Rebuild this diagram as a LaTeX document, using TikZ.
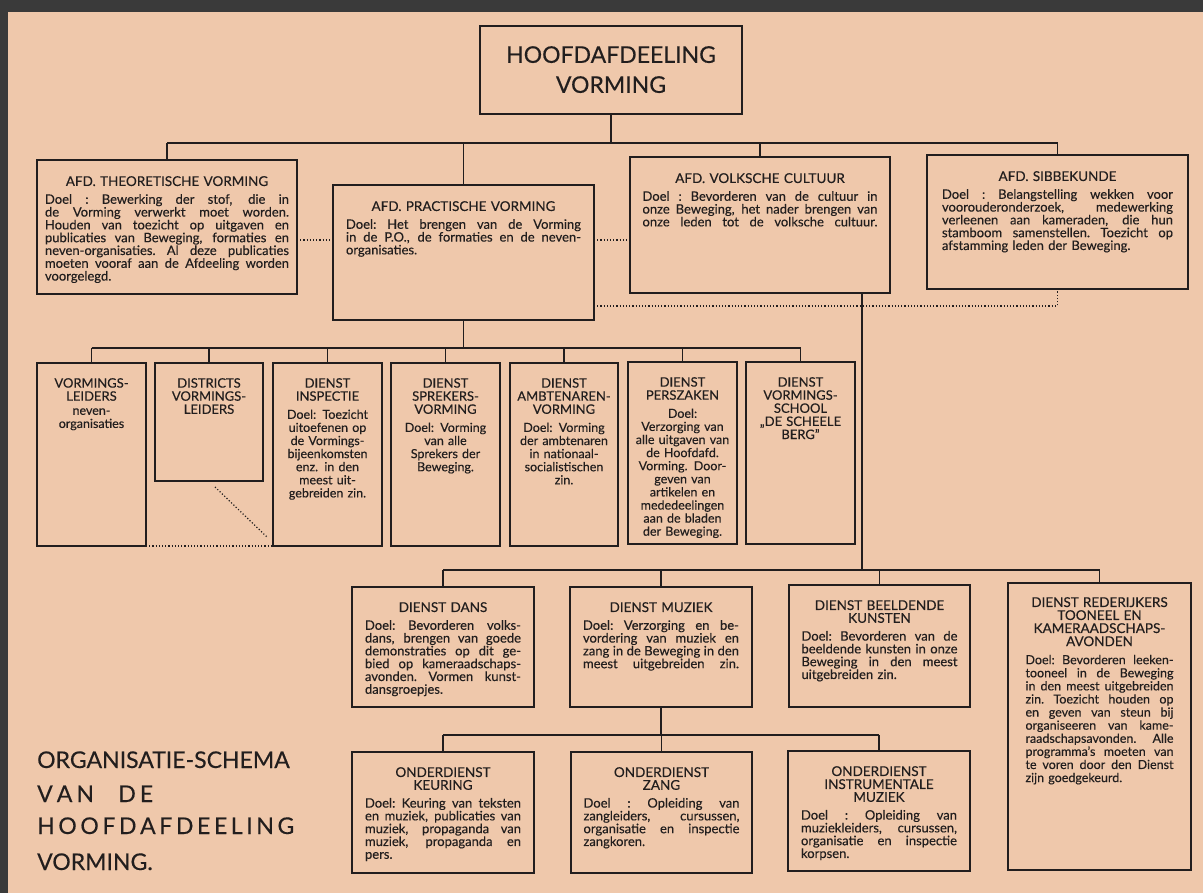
\documentclass[tikz,border=0pt]{standalone}
\usepackage{fontspec}
\setmainfont{Lato}[FakeBold=0.3]
\definecolor{paper}{RGB}{239,200,171}
\definecolor{ink}{RGB}{34,30,30}
\definecolor{framec}{RGB}{58,58,58}
\newcommand\JL[1]{{\spaceskip=0.24em plus 1fil minus 0.1em\xspaceskip=\spaceskip\makebox[\linewidth][s]{#1}}}
\newcommand\LL[1]{\makebox[\linewidth][l]{#1}}
\newcommand\hd{\fontsize{13.5}{13}\selectfont}
\newcommand\hdd{\fontsize{13}{13.1}\selectfont}
\newcommand\bx[5]{\node[box, minimum width={#4-#2}, minimum height={#5-#3}] (#1) at (#2,#3) {};}
\begin{document}
\begin{tikzpicture}[x=1pt,y=-1pt,
  box/.style={draw=ink, line width=1.9pt, inner sep=0pt, outer sep=0pt, anchor=north west, rectangle},
  txt/.style={anchor=north, inner sep=0pt, align=center, text=ink, font=\fontsize{13}{12.8}\selectfont},
  sm/.style={txt, text width=108pt, font=\fontsize{12.5}{13.1}\selectfont},
  conn/.style={draw=ink, line width=1.9pt},
  dots/.style={draw=ink, line width=1.2pt, dotted},
  ttl/.style={anchor=base west, inner sep=0pt, text=ink, font=\fontsize{23}{34}\selectfont}
]
\fill[paper] (0,0) rectangle (1203,893);
\fill[framec] (0,0) rectangle (1203,12);
\fill[framec] (0,0) rectangle (8,893);
\useasboundingbox (0,0) rectangle (1203,893);

% boxes
\bx{top}{480}{26}{742}{114}
\bx{theo}{37}{160}{297}{294}
\bx{prac}{333}{185}{594}{320}
\bx{volk}{630}{157}{890}{293}
\bx{sibbe}{927}{155}{1188}{289}
\bx{vl}{37}{363}{146}{546}
\bx{dist}{155}{363}{263}{481}
\bx{insp}{273}{363}{382}{546}
\bx{spr}{391}{363}{500}{546}
\bx{amb}{510}{363}{618}{546}
\bx{pers}{628}{362}{737}{544}
\bx{vs}{746}{362}{855}{544}
\bx{dans}{352}{587}{534}{707}
\bx{muz}{570}{587}{752}{707}
\bx{beeld}{789}{585}{970}{707}
\bx{rede}{1008}{583}{1191}{870}
\bx{keur}{352}{752}{534}{873}
\bx{zang}{571}{752}{752}{873}
\bx{instr}{788}{751}{970}{871}

% texts
\node[txt, font=\fontsize{23}{30}\selectfont] (top-t) at ([yshift=-20pt]top.north) {HOOFDAFDEELING\\VORMING};

\node[txt, text width=244pt] (theo-t) at ([yshift=-16pt]theo.north) {{\hd AFD. THEORETISCHE VORMING}\\[5pt]
\JL{Doel : Bewerking der stof, die in}\\
\JL{de Vorming verwerkt moet worden.}\\
\JL{Houden van toezicht op uitgaven en}\\
\JL{publicaties van Beweging, formaties en}\\
\JL{neven-organisaties. Al deze publicaties}\\
\JL{moeten vooraf aan de Afdeeling worden}\\
\LL{voorgelegd.}};

\node[txt, text width=235pt] (prac-t) at ([yshift=-16pt]prac.north) {{\hd AFD. PRACTISCHE VORMING}\\[5pt]
\JL{Doel: Het brengen van de Vorming}\\
\JL{in de P.O., de formaties en de neven-}\\
\LL{organisaties.}};

\node[txt, text width=235pt] (volk-t) at ([yshift=-16pt]volk.north) {{\hd AFD. VOLKSCHE CULTUUR}\\[5pt]
\JL{Doel : Bevorderen van de cultuur in}\\
\JL{onze Beweging, het nader brengen van}\\
\JL{onze leden tot de volksche cultuur.}};

\node[txt, text width=231pt] (sibbe-t) at ([yshift=-16pt]sibbe.north) {{\hd AFD. SIBBEKUNDE}\\[5pt]
\JL{Doel : Belangstelling wekken voor}\\
\JL{voorouderonderzoek, medewerking}\\
\JL{verleenen aan kameraden, die hun}\\
\JL{stamboom samenstellen. Toezicht op}\\
\LL{afstamming leden der Beweging.}};

\node[sm] (vl-t) at ([yshift=-15pt]vl.north) {{\hdd VORMINGS-\\LEIDERS}\\[1pt]neven-\\organisaties};
\node[sm] (dist-t) at ([yshift=-15pt]dist.north) {{\hdd DISTRICTS\\VORMINGS-\\LEIDERS}};
\node[sm] (insp-t) at ([yshift=-15pt]insp.north) {{\hdd DIENST\\INSPECTIE}\\[5pt]Doel: Toezicht\\uitoefenen op\\de Vormings-\\bijeenkomsten\\enz. in den\\meest uit-\\gebreiden zin.};
\node[sm] (spr-t) at ([yshift=-15pt]spr.north) {{\hdd DIENST\\SPREKERS-\\VORMING}\\[5pt]Doel: Vorming\\van alle\\Sprekers der\\Beweging.};
\node[sm] (amb-t) at ([yshift=-15pt]amb.north) {{\hdd DIENST\\AMBTENAREN-\\VORMING}\\[5pt]Doel: Vorming\\der ambtenaren\\in nationaal-\\socialistischen\\zin.};
\node[sm] (pers-t) at ([yshift=-15pt]pers.north) {{\hdd DIENST\\PERSZAKEN}\\[5pt]Doel:\\Verzorging van\\alle uitgaven van\\de Hoofdafd.\\Vorming. Door-\\geven van\\artikelen en\\mededeelingen\\aan de bladen\\der Beweging.};
\node[sm] (vs-t) at ([yshift=-15pt]vs.north) {{\hdd DIENST\\VORMINGS-\\SCHOOL\\„DE SCHEELE\\BERG”}};

\node[txt, text width=156pt] (dans-t) at ([yshift=-15pt]dans.north) {{\hd DIENST DANS}\\[5pt]
\JL{Doel: Bevorderen volks-}\\
\JL{dans, brengen van goede}\\
\JL{demonstraties op dit ge-}\\
\JL{bied op kameraadschaps-}\\
\JL{avonden. Vormen kunst-}\\
\LL{dansgroepjes.}};

\node[txt, text width=156pt] (muz-t) at ([yshift=-15pt]muz.north) {{\hd DIENST MUZIEK}\\[5pt]
\JL{Doel: Verzorging en be-}\\
\JL{vordering van muziek en}\\
\JL{zang in de Beweging in den}\\
\JL{meest uitgebreiden zin.}};

\node[txt, text width=156pt] (beeld-t) at ([yshift=-15pt]beeld.north) {{\hd DIENST BEELDENDE\\KUNSTEN}\\[5pt]
\JL{Doel: Bevorderen van de}\\
\JL{beeldende kunsten in onze}\\
\JL{Beweging in den meest}\\
\LL{uitgebreiden zin.}};

\node[txt, text width=148pt, font=\fontsize{12.5}{13.1}\selectfont] (rede-t) at ([yshift=-14pt]rede.north) {{\hd DIENST REDERIJKERS\\TOONEEL EN\\KAMERAADSCHAPS-\\AVONDEN}\\[5pt]
\JL{Doel: Bevorderen leeken-}\\
\JL{tooneel in de Beweging}\\
\JL{in den meest uitgebreiden}\\
\JL{zin. Toezicht houden op}\\
\JL{en geven van steun bij}\\
\JL{organiseeren van kame-}\\
\JL{raadschapsavonden. Alle}\\
\JL{programma’s moeten van}\\
\JL{te voren door den Dienst}\\
\LL{zijn goedgekeurd.}};

\node[txt, text width=156pt] (keur-t) at ([yshift=-15pt]keur.north) {{\hd ONDERDIENST\\KEURING}\\[5pt]
\JL{Doel: Keuring van teksten}\\
\JL{en muziek, publicaties van}\\
\JL{muziek, propaganda van}\\
\JL{muziek, propaganda en}\\
\LL{pers.}};

\node[txt, text width=156pt] (zang-t) at ([yshift=-15pt]zang.north) {{\hd ONDERDIENST\\ZANG}\\[5pt]
\JL{Doel : Opleiding van}\\
\JL{zangleiders, cursussen,}\\
\JL{organisatie en inspectie}\\
\LL{zangkoren.}};

\node[txt, text width=156pt] (instr-t) at ([yshift=-15pt]instr.north) {{\hd ONDERDIENST\\INSTRUMENTALE\\MUZIEK}\\[5pt]
\JL{Doel : Opleiding van}\\
\JL{muziekleiders, cursussen,}\\
\JL{organisatie en inspectie}\\
\LL{korpsen.}};

% title
\node[ttl] (t1) at (37,768) {ORGANISATIE-SCHEMA};
\node[ttl] (t2) at (37,802) {\hbox to 116pt{V\hfil A\hfil N\hskip 0pt plus 6fil D\hfil E}};
\node[ttl] (t3) at (37,834) {\hbox to 257pt{H\hfill O\hfill O\hfill F\hfill D\hfill A\hfill F\hfill D\hfill E\hfill E\hfill L\hfill I\hfill N\hfill G}};
\node[ttl] (t4) at (37,870) {VORMING.};

% connectors level 1
\coordinate (b1) at (611,143);
\draw[conn] (top.south) -- (top.south |- b1);
\draw[conn] (theo.north |- b1) -- (sibbe.north |- b1);
\foreach \n in {theo,prac,volk,sibbe} \draw[conn] (\n.north |- b1) -- (\n.north);

% level 2 (practische)
\coordinate (b3) at (463,348);
\draw[conn] (prac.south) -- (prac.south |- b3);
\draw[conn] (vl.north |- b3) -- (vs.north |- b3);
\foreach \n in {vl,dist,insp,spr,amb,pers,vs} \draw[conn] (\n.north |- b3) -- (\n.north);

% level 2 (volksche)
\coordinate (vk) at (862,570);
\draw[conn] (volk.south -| vk) -- (vk);
\draw[conn] (dans.north |- vk) -- (rede.north |- vk);
\foreach \n in {dans,muz,beeld,rede} \draw[conn] (\n.north |- vk) -- (\n.north);

% muziek
\coordinate (b5) at (661,735);
\draw[conn] (muz.south) -- (muz.south |- b5);
\draw[conn] (keur.north |- b5) -- (instr.north |- b5);
\foreach \n in {keur,zang,instr} \draw[conn] (\n.north |- b5) -- (\n.north);

% dotted
\coordinate (d1) at (315,240);
\draw[dots] (theo.east |- d1) -- (prac.west |- d1);
\draw[dots] (prac.east |- d1) -- (volk.west |- d1);
\coordinate (d2) at (800,306);
\draw[dots] (prac.east |- d2) -- (sibbe.south |- d2) -- (sibbe.south);
\draw[dots] (vl.south east) -- (insp.south west);
\draw[dots] ([shift={(6pt,-6pt)}]dist.south) -- ([shift={(-5pt,8pt)}]insp.south west);
\end{tikzpicture}
\end{document}
